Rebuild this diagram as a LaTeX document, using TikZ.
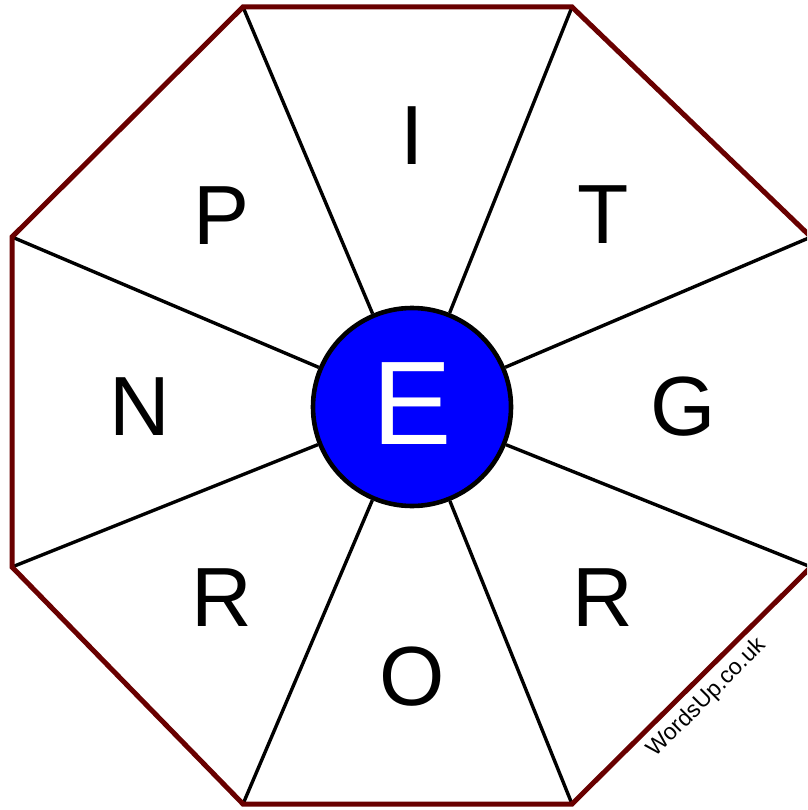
\documentclass[tikz,border=0pt]{standalone}
\usepackage{fontspec}
\setmainfont{Liberation Sans}
\usetikzlibrary{positioning}
\definecolor{rimred}{RGB}{105,0,0}
\definecolor{hubblue}{RGB}{0,0,255}
\tikzset{
  rim/.style={draw=rimred, line width=5pt, line join=miter},
  spoke/.style={draw=black, line width=3.4pt},
  hub/.style={circle, draw=black, line width=4.6pt, fill=hubblue, minimum size=198pt,
    inner sep=0pt, text=white, font=\fontsize{119}{119}\selectfont},
  letter/.style={font=\fontsize{84}{84}\selectfont, inner sep=0pt},
  credit/.style={font=\fontsize{23}{23}\selectfont, rotate=45, inner sep=0pt},
}

\begin{document}
\begin{tikzpicture}[x=1pt,y=-1pt]
\useasboundingbox (0,0) rectangle (807,810);
\clip (0,0) rectangle (807,810);
% octagon corners
\coordinate (v1) at (243,7);
\coordinate (v2) at (572,7);
\coordinate (v3) at (811,237);
\coordinate (v4) at (811,567);
\coordinate (v5) at (572,804);
\coordinate (v6) at (243,804);
\coordinate (v7) at (12,567);
\coordinate (v8) at (12,237);
% centre letter
\node[hub] (core) at (412,407) {\raisebox{6pt}{E}};
% spokes and rim
\foreach \i in {1,...,8}
  \draw[spoke] (v\i) -- (core);
\draw[rim] (v1) -- (v2) -- (v3) -- (v4) -- (v5) -- (v6) -- (v7) -- (v8) -- cycle;
% outer letters
\node[letter] (secn)  at (412,136) {I};
\node[letter] (secne) at (603,215) {T};
\node[letter] (sece)  at (683,407) {G};
\node[letter] (secse) at (603,598) {R};
\node[letter] (secs)  at (412,677) {O};
\node[letter] (secsw) at (222,598) {R};
\node[letter] (secw)  at (140,407) {N};
\node[letter] (secnw) at (222,216) {P};
\node[credit] (site) at (707,698) {WordsUp.co.uk};
\end{tikzpicture}
\end{document}
